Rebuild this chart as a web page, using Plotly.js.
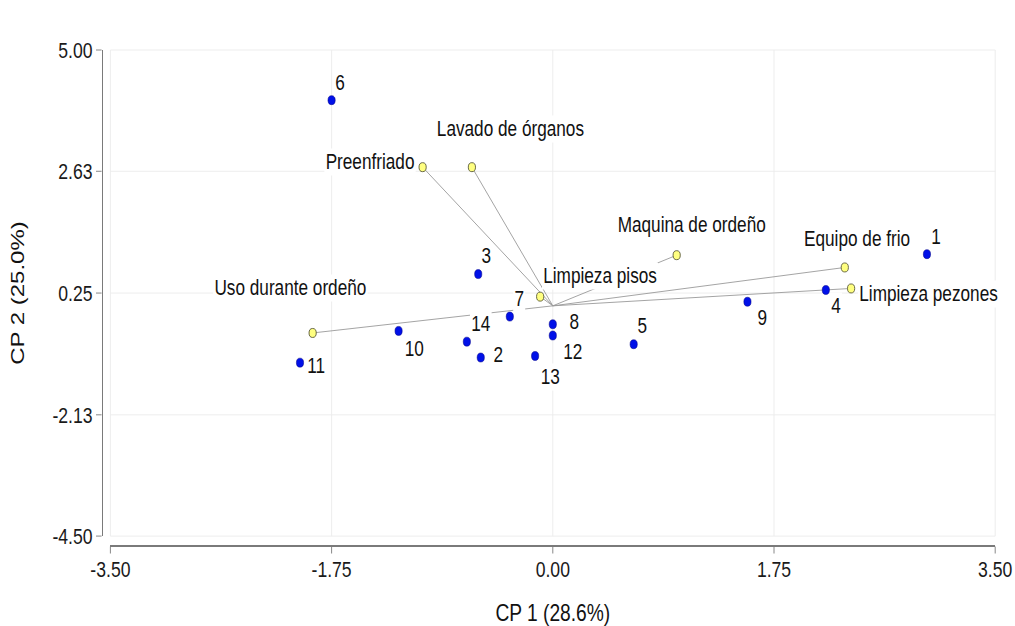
<!DOCTYPE html>
<html>
<head>
<meta charset="utf-8">
<script src="https://cdn.plot.ly/plotly-3.0.1.min.js"></script>
<style>
  html, body { margin: 0; padding: 0; overflow: hidden; background: #ffffff; }
  /* The plot is laid out wide and squeezed horizontally, giving the narrow lettering and oval dots */
  #chart { width: 1269px; height: 626px; transform: scaleX(0.8); transform-origin: 0 0; }
</style>
</head>
<body>
<div id="chart"></div>
<script>
// Observations (farms) on the first two principal components
const obsLabels = ['1', '2', '3', '4', '5', '6', '7', '8', '9', '10', '11', '12', '13', '14'];
const obsCP1 = [2.96, -0.57, -0.59, 2.16, 0.64, -1.75, -0.34, 0.00, 1.54, -1.22, -2.00, 0.00, -0.14, -0.68];
const obsCP2 = [1.01, -1.01, 0.62, 0.31, -0.75, 4.02, -0.21, -0.36, 0.08, -0.49, -1.11, -0.58, -0.98, -0.70];

// Variables (loadings) drawn as vectors from the origin
const varLabels = ['Preenfriado', 'Lavado de órganos', 'Maquina de ordeño', 'Equipo de frio',
                   'Limpieza pezones', 'Limpieza pisos', 'Uso durante ordeño'];
const varCP1 = [-1.03, -0.64, 0.98, 2.31, 2.36, -0.10, -1.90];
const varCP2 = [2.71, 2.71, 0.99, 0.75, 0.34, 0.18, -0.53];

// Axis ticks
const xTicks = [-3.50, -1.75, 0.00, 1.75, 3.50];
const yTicks = [-4.50, -2.13, 0.25, 2.63, 5.00];

const xTitle = 'CP 1 (28.6%)';
const yTitle = 'CP 2 (25.0%)';

// Label placement relative to each point, in pixels: [xshift, yshift, xanchor]
const obsLabelOffset = {
  '1': [11.6, 17, 'center'], '2': [21.6, 2.3, 'center'], '3': [10, 18, 'center'],
  '4': [12.5, -16, 'center'], '5': [11.3, 18, 'center'], '6': [10.4, 17.3, 'center'],
  '7': [11.3, 17.7, 'center'], '8': [27, 2, 'center'], '9': [19, -16, 'center'],
  '10': [19.6, -18, 'center'], '11': [20.4, -3.3, 'center'], '12': [25.4, -16.7, 'center'],
  '13': [18.8, -21.3, 'center'], '14': [17.9, 17.7, 'center']
};
const varLabelOffset = {
  'Preenfriado': [-8.4, 5, 'right'],
  'Lavado de órganos': [47.9, 38.3, 'center'],
  'Maquina de ordeño': [19.1, 30, 'center'],
  'Equipo de frio': [15.9, 28.3, 'center'],
  'Limpieza pezones': [7.9, -5.7, 'left'],
  'Limpieza pisos': [75, 20.7, 'center'],
  'Uso durante ordeño': [-27.9, 44.7, 'center']
};

const FONT = 'Liberation Sans, Arial, Helvetica, sans-serif';

// Vector segments from the origin to every variable point
const segX = [], segY = [];
varCP1.forEach((v, i) => { segX.push(0, v, null); segY.push(0, varCP2[i], null); });

const traces = [
  {
    type: 'scatter', mode: 'lines', x: segX, y: segY,
    line: { color: '#9a9a9a', width: 1 }, hoverinfo: 'skip', showlegend: false
  },
  {
    type: 'scatter', mode: 'markers', x: varCP1, y: varCP2, text: varLabels,
    marker: { size: 9, color: '#ffff80', line: { color: '#5a5a3a', width: 1 } },
    showlegend: false
  },
  {
    type: 'scatter', mode: 'markers', x: obsCP1, y: obsCP2, text: obsLabels,
    marker: { size: 9, color: '#0010e8', line: { color: '#00008a', width: 0.6 } },
    showlegend: false
  }
];

function label(x, y, text, off) {
  return {
    x: x, y: y, xref: 'x', yref: 'y', text: text, showarrow: false,
    xshift: off[0], yshift: off[1], xanchor: off[2], yanchor: 'middle',
    font: { family: FONT, size: 21.5, color: '#111111' },
    bgcolor: '#ffffff', borderpad: 1
  };
}

const annotations = [];
varLabels.forEach((t, i) => annotations.push(label(varCP1[i], varCP2[i], t, varLabelOffset[t])));
obsLabels.forEach((t, i) => annotations.push(label(obsCP1[i], obsCP2[i], t, obsLabelOffset[t])));

const axisCommon = {
  ticks: 'outside', ticklen: 7, tickwidth: 1, tickcolor: '#7a7a7a',
  showline: true, linecolor: '#7a7a7a', linewidth: 1.5,
  showgrid: true, gridcolor: '#ebebeb', gridwidth: 1, zeroline: false,
  tickfont: { family: FONT, size: 22, color: '#1a1a1a' },
  anchor: 'free', position: 0, fixedrange: true
};

const layout = {
  width: 1269, height: 626,
  margin: { l: 127, r: 25, t: 50, b: 81 },
  paper_bgcolor: '#ffffff', plot_bgcolor: '#ffffff',
  font: { family: FONT, color: '#111111' },
  xaxis: Object.assign({}, axisCommon, {
    range: [-3.5, 3.5], domain: [0.00985, 1], ticklabelstandoff: -3,
    tickmode: 'array', tickvals: xTicks, ticktext: xTicks.map(v => v.toFixed(2)),
    title: { text: xTitle, font: { family: FONT, size: 24, color: '#111111' }, standoff: 26 }
  }),
  yaxis: Object.assign({}, axisCommon, {
    range: [-4.5, 5.0], domain: [0.018, 1],
    tickmode: 'array', tickvals: yTicks, ticktext: yTicks.map(v => v.toFixed(2)),
    title: { text: yTitle, font: { family: FONT, size: 24, color: '#111111' }, standoff: 26 }
  }),
  // light frame around the plotting region
  shapes: [{
    type: 'rect', xref: 'x domain', yref: 'y domain', x0: 0, x1: 1, y0: 0, y1: 1,
    line: { color: '#ebebeb', width: 1 }, layer: 'below'
  }],
  annotations: annotations,
  showlegend: false,
  hovermode: false
};

Plotly.newPlot('chart', traces, layout, { displayModeBar: false, staticPlot: true });
</script>
</body>
</html>
